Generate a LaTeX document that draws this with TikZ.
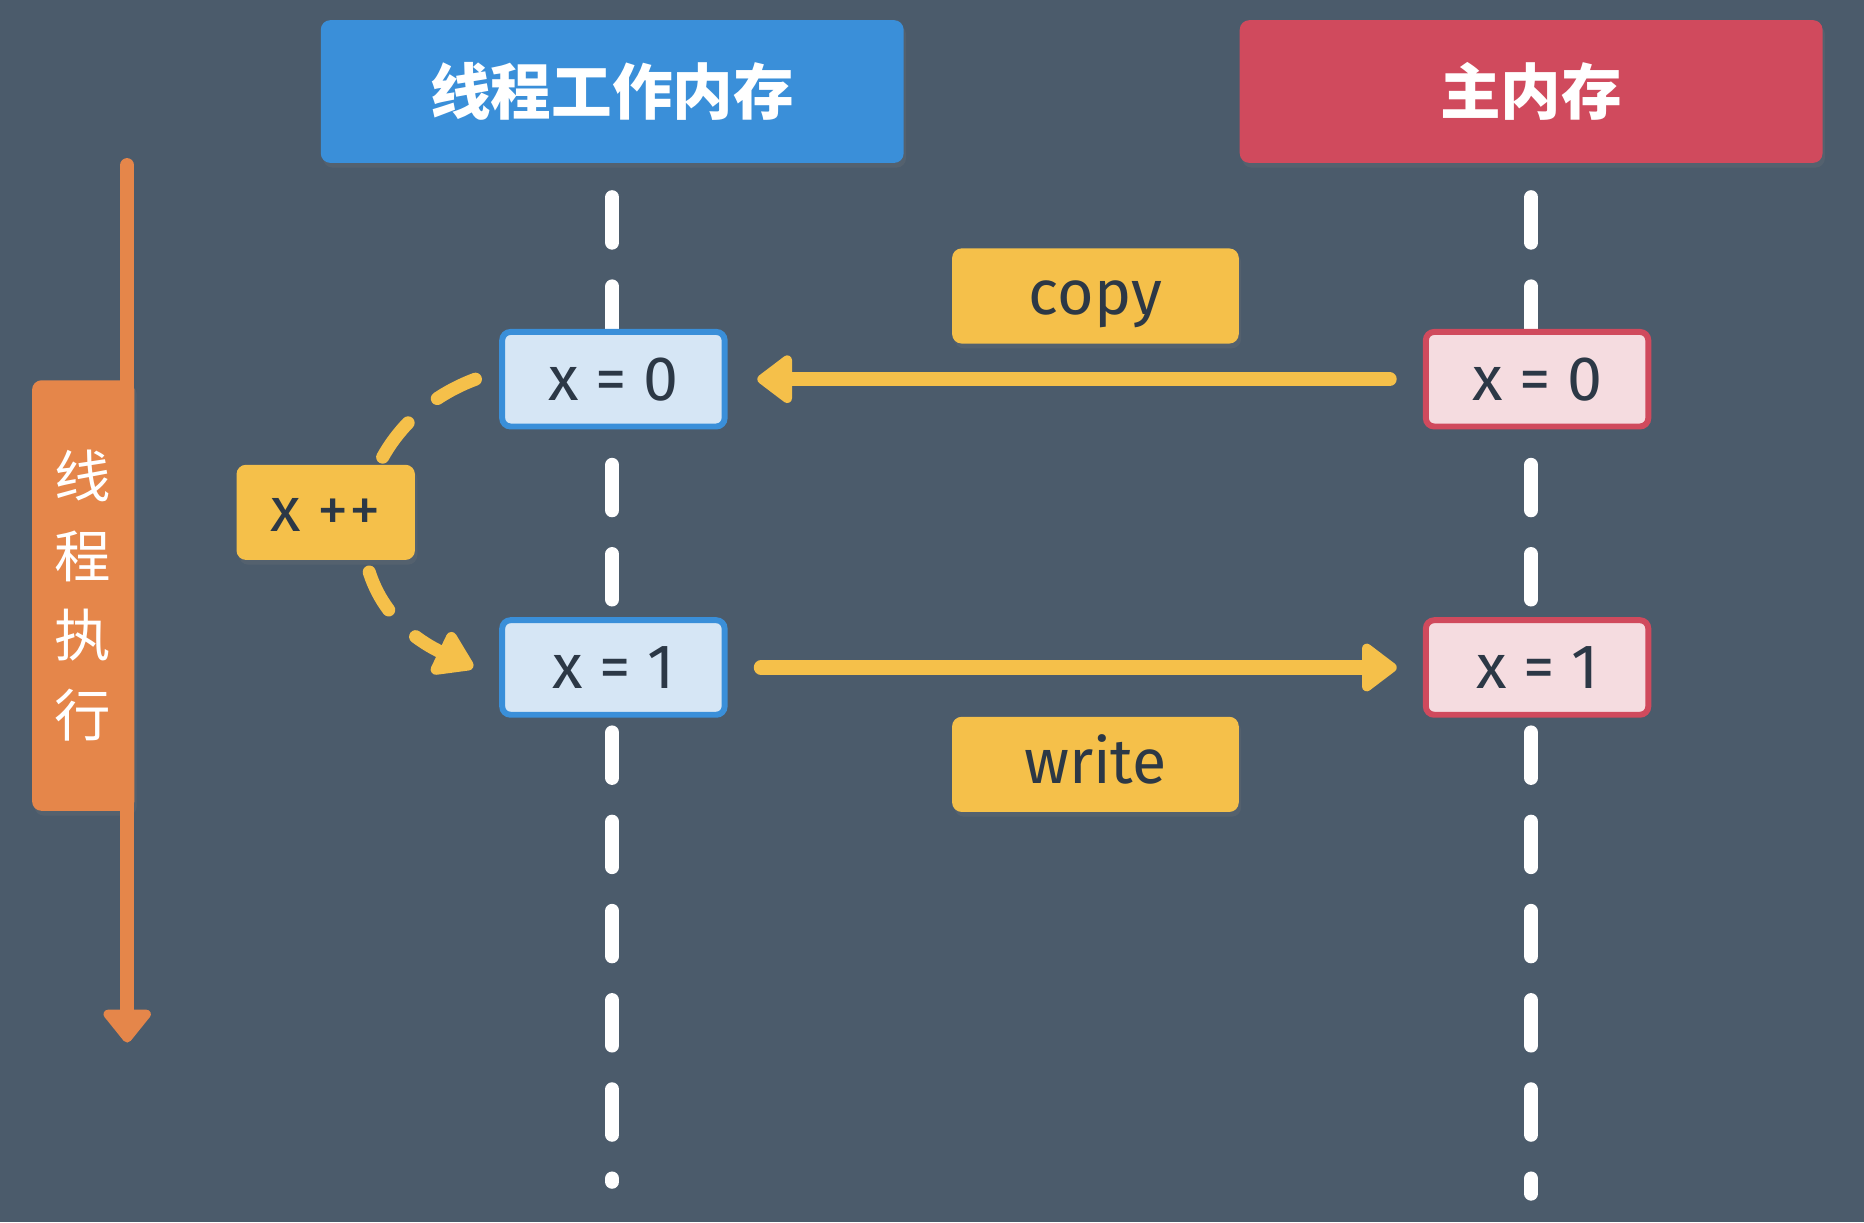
\documentclass[tikz,border=0pt]{standalone}
\usepackage{fontspec}
\setmainfont{Fira Sans}
\newfontfamily\cjk{Noto Sans CJK SC}
\usetikzlibrary{arrows.meta,shadows}

\definecolor{slate}{RGB}{75,91,107}
\definecolor{boxblue}{RGB}{58,143,217}
\definecolor{boxred}{RGB}{208,74,93}
\definecolor{paleblue}{RGB}{214,230,245}
\definecolor{palered}{RGB}{245,220,224}
\definecolor{opyellow}{RGB}{245,192,74}
\definecolor{timeorange}{RGB}{229,134,74}
\definecolor{inkdark}{RGB}{44,56,70}

\tikzset{
  header/.style={rounded corners=0.08cm, minimum width=4.9cm, minimum height=1.2cm, inner sep=0pt,
    text=white, font={\cjk\bfseries\fontsize{14.5}{17}\selectfont},
    drop shadow={shadow xshift=0.02cm, shadow yshift=-0.04cm, opacity=0.18}},
  cell/.style={rounded corners=0.07cm, line width=0.05cm, minimum width=1.87cm, minimum height=0.795cm,
    inner sep=0pt, text=inkdark, font={\fontsize{15}{18}\selectfont}},
  opbox/.style={fill=opyellow, rounded corners=0.08cm, inner sep=0pt, minimum height=0.8cm,
    text height=11pt, text depth=2pt, text=inkdark, font={\fontsize{15}{18}\selectfont},
    drop shadow={shadow xshift=0.02cm, shadow yshift=-0.04cm, opacity=0.18}},
  lifeline/.style={white, line width=0.12cm, line cap=round, dash pattern=on 0.38cm off 0.37cm},
  flow/.style={opyellow, line width=0.12cm, line cap=round},
  incdash/.style={opyellow, line width=0.11cm, line cap=round, dash pattern=on 0.36cm off 0.32cm}
}

\begin{document}
\begin{tikzpicture}[x=0.01cm, y=-0.01cm]
  \fill[slate] (0,0) rectangle (1568,1028);

  % lifelines
  \coordinate (thr top) at (515,166);
  \coordinate (thr end) at (515,994);
  \coordinate (main top) at (1288,166);
  \coordinate (main end) at (1288,1004);
  \draw[lifeline] (thr top) -- (thr end);
  \draw[lifeline] (main top) -- (main end);

  % headers
  \node[header, fill=boxblue] (thread) at (515,77) {线程工作内存};
  \node[header, fill=boxred] (main) at (1288,77) {主内存};

  % time axis
  \coordinate (time top) at (107,139);
  \coordinate (time end) at (107,877);
  \node[fill=timeorange, rounded corners=0.08cm, minimum width=0.86cm, minimum height=3.62cm, inner sep=0pt,
    text=white, align=center, font={\cjk\fontsize{13.5}{19}\selectfont},
    drop shadow={shadow xshift=0.02cm, shadow yshift=-0.04cm, opacity=0.18}] (exec) at (70,501) {线\\程\\执\\行};
  \draw[timeorange, line width=0.12cm, line cap=round, -{Triangle[width=0.46cm, length=0.3cm, round]}]
    (time top) -- (time end);

  % the increment loop, drawn under the x++ box
  \node[cell, draw=boxblue, fill=paleblue] (w0) at (516,319) {x = 0};
  \node[cell, draw=boxblue, fill=paleblue] (w1) at (516,561.5) {x = 1};
  \draw[incdash, -{Triangle[width=0.44cm, length=0.36cm, round]}]
    ([xshift=-0.2cm]w0.west) .. controls (290,360) and (270,500) .. ([xshift=-0.22cm]w1.west);
  \node[opbox, minimum width=1.5cm] (inc) at (274,431) {x ++};

  % main memory cells
  \node[cell, draw=boxred, fill=palered] (m0) at (1293,319) {x = 0};
  \node[cell, draw=boxred, fill=palered] (m1) at (1293,561.5) {x = 1};

  % copy and write
  \draw[flow, -{Triangle[width=0.46cm, length=0.32cm, round]}, shorten <=0.28cm, shorten >=0.25cm] (m0) -- (w0);
  \draw[flow, -{Triangle[width=0.46cm, length=0.32cm, round]}, shorten <=0.28cm, shorten >=0.22cm] (w1) -- (m1);
  \node[opbox, minimum width=2.41cm] (copy) at (921.5,249) {copy};
  \node[opbox, minimum width=2.41cm] (write) at (921.5,643) {write};
\end{tikzpicture}
\end{document}
